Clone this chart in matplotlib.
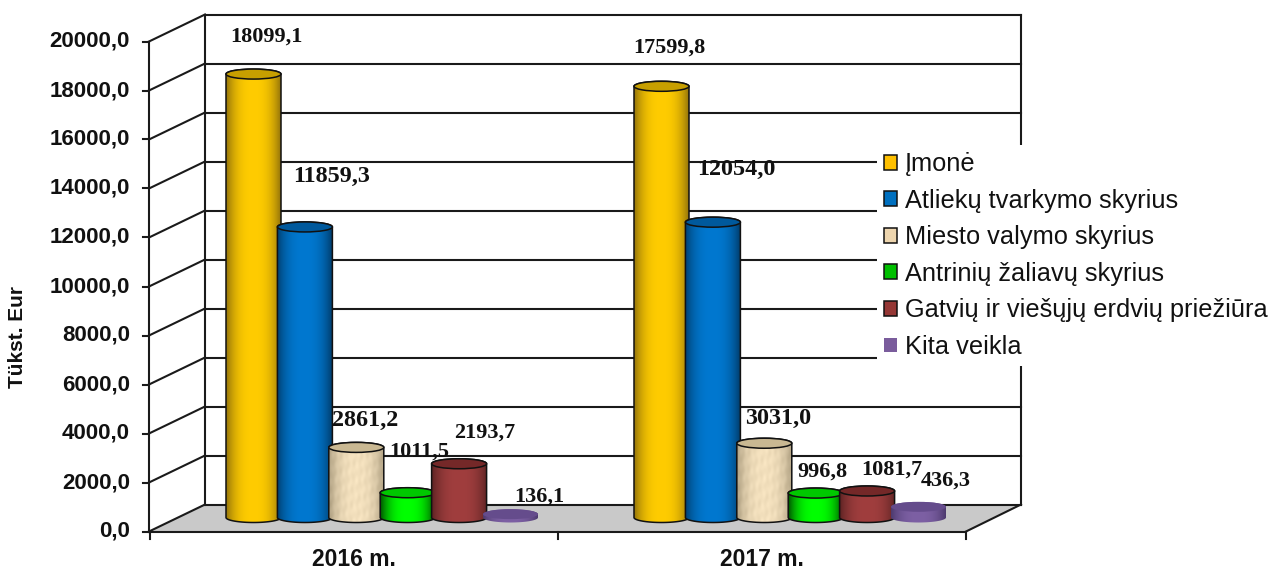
import matplotlib
matplotlib.use('Agg')
import matplotlib.pyplot as plt
import numpy as np
from matplotlib.patches import Ellipse, PathPatch, Patch, Polygon
from matplotlib.path import Path

# Data
years = ['2016 m.', '2017 m.']
series_names = ['Įmonė', 'Atliekų tvarkymo skyrius', 'Miesto valymo skyrius',
                'Antrinių žaliavų skyrius', 'Gatvių ir viešųjų erdvių priežiūra', 'Kita veikla']
imone = [18099.1, 17599.8]
atlieku = [11859.3, 12054.0]
miesto = [2861.2, 3031.0]
antriniu = [1011.5, 996.8]
gatviu = [2193.7, 1081.7]
kita = [136.1, 436.3]
y_ticks = [0, 2000, 4000, 6000, 8000, 10000, 12000, 14000, 16000, 18000, 20000]

all_series = [imone, atlieku, miesto, antriniu, gatviu, kita]

# colours: edge of cylinder, middle of cylinder, top ellipse
colours = [('#94740a', '#ffcc00', '#c79f00'),
           ('#003f70', '#0078d0', '#00599c'),
           ('#b0a183', '#f3e0bd', '#c9b892'),
           ('#005200', '#00ff00', '#00c800'),
           ('#5f2424', '#a03e3e', '#742828'),
           ('#4d3a6e', '#7d60a4', '#654c8c')]
legend_colours = ['#ffc000', '#0070c0', '#edd5ae', '#00c000', '#953735', '#7a5c9c']

# label offsets from the top of each cylinder, in pixels, and font sizes
label_offsets = [[(13, 37), (27, 50), (9, 27), (12, 41), (26, 31), (29, 18)],
                 [(7.5, 39), (23, 53), (14, 25), (7, 21), (25, 21), (27, 26)]]
label_sizes = [16, 17.4, 17.4, 16, 16, 16]

# scales: one x unit is the distance between the two groups
GROUP_PX = 408.0
SCALE = 490.0 / 20000  # pixels per unit value
W, H = 1269, 568
X0 = 354.0  # pixel of group 0
BASE = 517.5  # pixel of value 0 at the cylinder axis


def px(n):
    return n / GROUP_PX


def py(n):
    return n / SCALE


fig = plt.figure(figsize=(W / 100, H / 100), dpi=100)
ax = fig.add_axes([0, 0, 1, 1])
ax.set_xlim(-X0 / GROUP_PX, (W - X0) / GROUP_PX)
ax.set_ylim(-py(H - BASE), py(BASE))
ax.axis('off')

LINE = '#1a1a1a'
LW = 1.5
front_x, back_x = px(149 - X0), px(205 - X0)
right_front, right_back = px(966 - X0), px(1021 - X0)
front_dy, back_dy = -py(14), py(13)

# floor
ax.add_patch(Polygon([(front_x, front_dy), (back_x, back_dy), (right_back, back_dy), (right_front, front_dy)],
                     closed=True, fc='#c9c9c9', ec='none', zorder=1))

# walls and gridlines
for v in y_ticks:
    ax.plot([back_x, right_back], [v + back_dy, v + back_dy], color=LINE, lw=LW, zorder=2)
    ax.plot([front_x, back_x], [v + front_dy, v + back_dy], color=LINE, lw=LW, zorder=2)
    ax.plot([px(143 - X0), front_x], [v + front_dy, v + front_dy], color=LINE, lw=LW, zorder=2)
    ax.text(px(130 - X0), v + front_dy, f'{v},0', ha='right', va='center', fontsize=16,
            fontweight='bold', family='Liberation Sans', color='#111111', zorder=6)
ax.plot([front_x, front_x], [front_dy, 20000 + front_dy], color=LINE, lw=LW, zorder=2)
ax.plot([back_x, back_x], [back_dy, 20000 + back_dy], color=LINE, lw=LW, zorder=2)
ax.plot([right_back, right_back], [back_dy, 20000 + back_dy], color=LINE, lw=LW, zorder=2)
ax.plot([front_x, right_front], [front_dy, front_dy], color=LINE, lw=LW, zorder=2)
ax.plot([right_front, right_back], [front_dy, back_dy], color=LINE, lw=LW, zorder=2)
for g in [-0.5, 0.5, 1.5]:
    ax.plot([g, g], [front_dy, front_dy - py(7)], color=LINE, lw=LW, zorder=2)

for g, name in enumerate(years):
    ax.text(g, -py(559 - BASE), name, ha='center', va='center', fontsize=16.5, fontweight='bold',
            family='Liberation Sans', color='#111111')
ax.text(px(18 - X0), py(BASE - 337), 'Tükst. Eur', rotation=90, ha='center', va='center', fontsize=15,
        fontweight='bold', family='Liberation Sans', color='#111111')


def to_rgb(c):
    return np.array(matplotlib.colors.to_rgb(c))


def cylinder(xc, value, idx, z):
    edge, mid, top = colours[idx]
    rx, ry = px(27.5), py(5)
    t = np.linspace(0, np.pi, 60)
    top_arc = np.column_stack([xc + rx * np.cos(t), value + ry * np.sin(t)])
    low_arc = np.column_stack([xc - rx * np.cos(t), -ry * np.sin(t)])
    verts = np.vstack([top_arc, low_arc, top_arc[:1]])
    body = Path(verts, closed=True)

    # shading across the cylinder
    u = np.linspace(-1, 1, 110)
    shade = 1 - np.abs(u) ** 2.6
    rgb = to_rgb(edge)[None, :] + (to_rgb(mid) - to_rgb(edge))[None, :] * shade[:, None]
    img = rgb[None, :, :].repeat(40, axis=0)
    if idx == 2:
        # mottled stone look
        yy, xx = np.mgrid[0:40, 0:110]
        m = np.sin(xx * 0.31 + yy * 0.53) * np.sin(xx * 0.17 - yy * 0.41) + 0.5 * np.sin(xx * 0.6) * np.sin(yy * 0.77)
        img = np.clip(img + 0.025 * m[:, :, None], 0, 1)
    im = ax.imshow(img, extent=(xc - rx, xc + rx, -ry, value + ry), aspect='auto', zorder=z,
                   interpolation='bicubic')
    patch = PathPatch(body, fc='none', ec='#111111' if idx != 5 else 'none', lw=1.1, zorder=z + 0.1)
    ax.add_patch(patch)
    im.set_clip_path(patch)
    ax.add_patch(Ellipse((xc, value), 2 * rx, 2 * ry, fc=top, ec='#111111' if idx != 5 else 'none',
                         lw=1.1, zorder=z + 0.2))


BAR_STEP = 51.4
FIRST = 253.5
z = 3.0
for g in range(len(years)):
    for s, values in enumerate(all_series):
        xc = g + px(FIRST + BAR_STEP * s - X0)
        cylinder(xc, values[g], s, z)
        z += 0.5
        dx, dy = label_offsets[g][s]
        ax.annotate(f'{values[g]:.1f}'.replace('.', ','), (xc, values[g]), xytext=(dx * 0.72, dy * 0.72),
                    textcoords='offset points', ha='center', va='center', fontsize=label_sizes[s],
                    fontweight='bold', family='Liberation Serif', color='#111111', zorder=40)

ax.set_xlim(-X0 / GROUP_PX, (W - X0) / GROUP_PX)
ax.set_ylim(-py(H - BASE), py(BASE))

handles = [Patch(fc=c, ec='#111111' if i != 5 else 'none', lw=1.1) for i, c in enumerate(legend_colours)]
leg = ax.legend(handles, series_names, loc='upper left', bbox_to_anchor=(877 / W, 1 - 145 / H), borderaxespad=0,
                frameon=True, framealpha=1, edgecolor='none', facecolor='white', fancybox=False,
                prop={'family': 'Liberation Sans', 'size': 18.3}, handlelength=0.52, handleheight=0.52,
                handletextpad=0.3, labelspacing=0.495, borderpad=0.28, labelcolor='#111111')
leg.set_zorder(30)

fig.savefig('out.png', dpi=100)
